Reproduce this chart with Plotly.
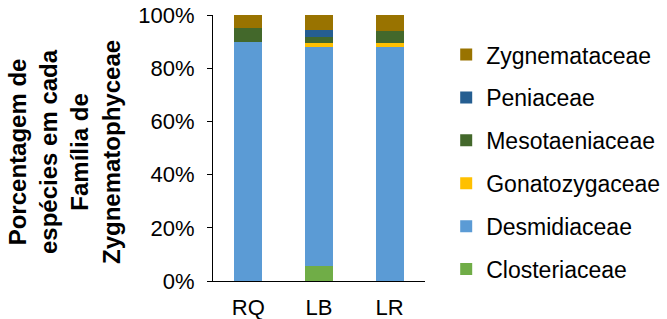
import plotly.graph_objects as go

sites = ["RQ", "LB", "LR"]
families = ["Closteriaceae", "Desmidiaceae", "Gonatozygaceae", "Mesotaeniaceae", "Peniaceae", "Zygnemataceae"]
closteriaceae = [0.0, 5.7, 0.0]
desmidiaceae = [90.0, 82.1, 88.1]
gonatozygaceae = [0.0, 1.5, 1.5]
mesotaeniaceae = [5.0, 2.4, 4.4]
peniaceae = [0.0, 2.8, 0.0]
zygnemataceae = [5.0, 5.5, 6.0]
colors = ["#70AD47", "#5B9BD5", "#FFC000", "#43682B", "#255E91", "#997300"]
ytick_vals = [0, 20, 40, 60, 80, 100]
ytick_text = ["0%", "20%", "40%", "60%", "80%", "100%"]

series = [closteriaceae, desmidiaceae, gonatozygaceae, mesotaeniaceae, peniaceae, zygnemataceae]

FONT = "Liberation Sans, Arial, sans-serif"
fig = go.Figure()
n = len(families)
for i, (name, vals, col) in enumerate(zip(families, series, colors)):
    fig.add_trace(go.Bar(x=sites, y=vals, name=name, marker=dict(color=col, line=dict(width=0)),
                         legendgroup=name, legendrank=1000 + (n - i), width=0.4))

fig.update_layout(
    barmode="stack",
    width=667, height=319,
    margin=dict(l=213, r=242, t=15, b=38, autoexpand=False),
    paper_bgcolor="white", plot_bgcolor="white",
    font=dict(family=FONT, size=22, color="#000000"),
    showlegend=True,
    legend=dict(traceorder="grouped", x=1.1, xanchor="left", y=0.447, yanchor="middle",
                font=dict(size=23), tracegroupgap=10, itemwidth=30, bgcolor="rgba(0,0,0,0)"),
    xaxis=dict(showline=True, linecolor="#000000", linewidth=1, ticks="", showgrid=False,
               tickfont=dict(size=22), ticklabelstandoff=7),
    yaxis=dict(range=[0, 100], tickvals=ytick_vals, ticktext=ytick_text, showline=True,
               linecolor="#000000", linewidth=1, ticks="outside", ticklen=5, tickcolor="#000000",
               showgrid=False, zeroline=False, tickfont=dict(size=22), ticklabelstandoff=8),
    annotations=[dict(text="<b>Porcentagem de<br>espécies em cada<br>Família de<br>Zygnematophyceae</b>",
                      xref="paper", yref="paper", x=(65 - 213) / 212, y=0.485, xanchor="center",
                      yanchor="middle", textangle=-90, showarrow=False,
                      font=dict(family=FONT, size=24, color="#000000"))],
)

fig.write_html("out.html", post_script="document.body.style.margin='0';",
               config={"displayModeBar": False})
